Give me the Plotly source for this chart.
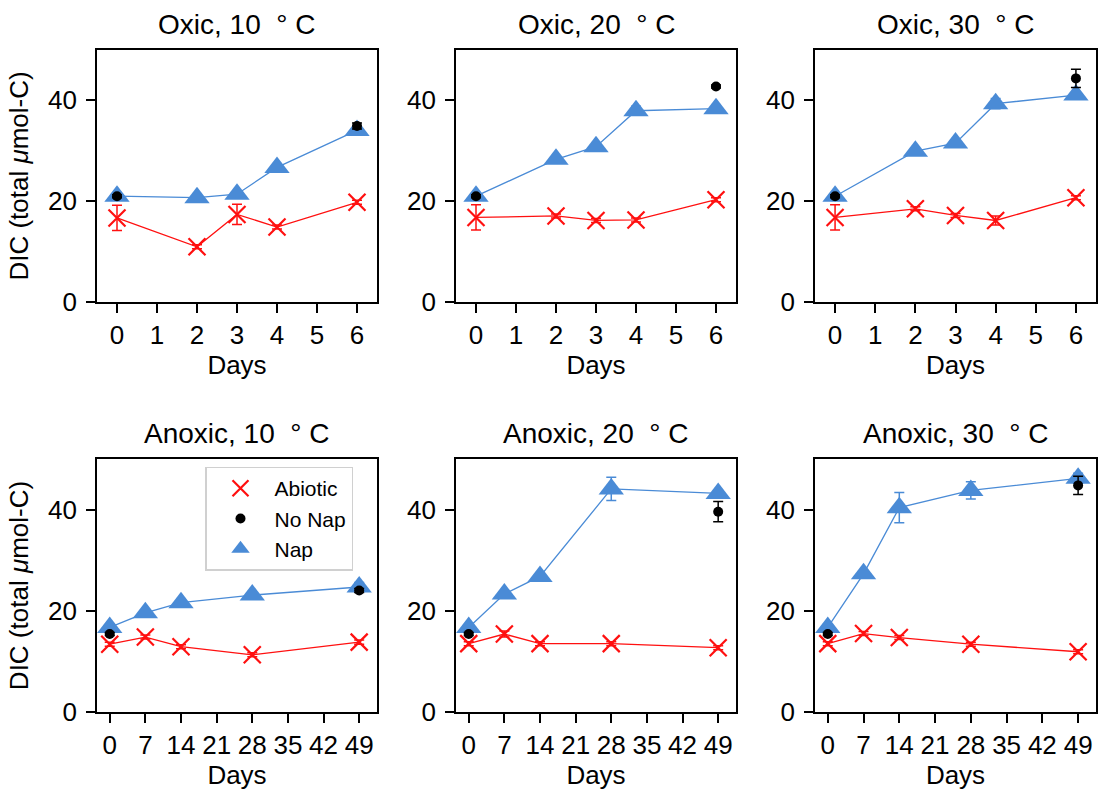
import plotly.graph_objects as go

# ---------------- data ----------------
days_oxic = [0, 2, 3, 4, 6]
days_anoxic = [0, 7, 14, 28, 49]
nonap_days_oxic = [0, 6]
nonap_days_anoxic = [0, 49]

DEG = "\u00a0\u00a0°\u00a0C"
titles = ["Oxic, 10" + DEG, "Oxic, 20" + DEG, "Oxic, 30" + DEG,
          "Anoxic, 10" + DEG, "Anoxic, 20" + DEG, "Anoxic, 30" + DEG]

abiotic_ox10 = [16.7, 11.0, 17.4, 14.9, 19.8]
abiotic_ox10_err = [2.5, 0.4, 2.0, 0.4, 0.4]
abiotic_ox20 = [16.8, 17.1, 16.2, 16.3, 20.3]
abiotic_ox20_err = [2.5, 0.4, 0.4, 0.4, 0.4]
abiotic_ox30 = [16.8, 18.5, 17.2, 16.2, 20.7]
abiotic_ox30_err = [2.5, 0.4, 0.4, 0.9, 0.4]
abiotic_an10 = [13.4, 14.8, 12.9, 11.3, 13.8]
abiotic_an10_err = [0.4, 0.4, 0.4, 0.4, 0.4]
abiotic_an20 = [13.5, 15.4, 13.5, 13.5, 12.7]
abiotic_an20_err = [0.4, 0.6, 0.4, 0.4, 0.4]
abiotic_an30 = [13.5, 15.5, 14.7, 13.4, 11.9]
abiotic_an30_err = [0.4, 0.4, 0.4, 0.4, 0.4]

nap_ox10 = [21.0, 20.7, 21.4, 26.7, 34.0]
nap_ox10_err = [0.4, 0.4, 0.4, 0.4, 0.4]
nap_ox20 = [21.0, 28.3, 30.8, 37.9, 38.3]
nap_ox20_err = [0.4, 0.4, 0.4, 0.9, 0.4]
nap_ox30 = [21.0, 29.9, 31.5, 39.3, 41.0]
nap_ox30_err = [0.4, 0.4, 0.4, 1.0, 0.4]
nap_an10 = [16.7, 19.6, 21.6, 23.1, 24.7]
nap_an10_err = [0.6, 0.5, 0.4, 0.6, 0.9]
nap_an20 = [16.7, 23.3, 26.8, 44.1, 43.2]
nap_an20_err = [0.6, 0.4, 0.4, 2.3, 0.6]
nap_an30 = [16.7, 27.3, 40.4, 43.8, 46.2]
nap_an30_err = [0.6, 0.4, 3.0, 1.7, 1.0]

nonap_ox10 = [21.0, 34.9]
nonap_ox10_err = [0.3, 0.6]
nonap_ox20 = [21.0, 42.7]
nonap_ox20_err = [0.3, 0.3]
nonap_ox30 = [21.0, 44.3]
nonap_ox30_err = [0.3, 1.8]
nonap_an10 = [15.4, 24.0]
nonap_an10_err = [0.3, 0.4]
nonap_an20 = [15.4, 39.6]
nonap_an20_err = [0.3, 2.0]
nonap_an30 = [15.4, 44.8]
nonap_an30_err = [0.3, 1.8]

x_ticks_oxic = [0, 1, 2, 3, 4, 5, 6]
x_ticks_anoxic = [0, 7, 14, 21, 28, 35, 42, 49]
y_ticks = [0, 20, 40]

panels = [
    (days_oxic, nonap_days_oxic, abiotic_ox10, abiotic_ox10_err, nap_ox10, nap_ox10_err, nonap_ox10, nonap_ox10_err),
    (days_oxic, nonap_days_oxic, abiotic_ox20, abiotic_ox20_err, nap_ox20, nap_ox20_err, nonap_ox20, nonap_ox20_err),
    (days_oxic, nonap_days_oxic, abiotic_ox30, abiotic_ox30_err, nap_ox30, nap_ox30_err, nonap_ox30, nonap_ox30_err),
    (days_anoxic, nonap_days_anoxic, abiotic_an10, abiotic_an10_err, nap_an10, nap_an10_err, nonap_an10, nonap_an10_err),
    (days_anoxic, nonap_days_anoxic, abiotic_an20, abiotic_an20_err, nap_an20, nap_an20_err, nonap_an20, nonap_an20_err),
    (days_anoxic, nonap_days_anoxic, abiotic_an30, abiotic_an30_err, nap_an30, nap_an30_err, nonap_an30, nonap_an30_err),
]

# ---------------- style / layout ----------------
W, H = 1101, 794
HE = 778  # effective rendered height used for paper-coordinate conversion
RED = "#ff1010"
BLUE = "#4a8bd6"
FONT = "Liberation Sans, Arial, sans-serif"
TICK = 26
LAB = 26

x_dom_px = [(97, 377), (456, 736), (815, 1096)]
y_dom_px = [(49.5, 302), (458.5, 711)]

fig = go.Figure()
layout = {}

for i, (dx, dn, ab, abe, nap, nape, nn, nne) in enumerate(panels):
    r, c = divmod(i, 3)
    k = "" if i == 0 else str(i + 1)
    xa, ya = "x" + k, "y" + k
    show = (i == 3)
    fig.add_trace(go.Scatter(x=dx, y=nap, mode="lines", showlegend=False, hoverinfo="skip",
                             xaxis=xa, yaxis=ya, line=dict(color=BLUE, width=1.3)))
    fig.add_trace(go.Scatter(x=dx, y=ab, mode="lines", showlegend=False, hoverinfo="skip",
                             xaxis=xa, yaxis=ya, line=dict(color=RED, width=1.3)))
    fig.add_trace(go.Scatter(
        x=dx, y=nap, mode="markers", name="Nap", legendgroup="nap",
        showlegend=show, legendrank=3, xaxis=xa, yaxis=ya,
        marker=dict(symbol="triangle-up", size=22, color=BLUE),
        error_y=dict(type="data", array=nape, color=BLUE, thickness=1.5, width=5),
    ))
    fig.add_trace(go.Scatter(
        x=dx, y=ab, mode="markers", name="Abiotic", legendgroup="ab",
        showlegend=show, legendrank=1, xaxis=xa, yaxis=ya,
        marker=dict(symbol="x-thin-open", size=17, color=RED, line=dict(color=RED, width=2.2)),
        error_y=dict(type="data", array=abe, color=RED, thickness=1.5, width=5),
    ))
    fig.add_trace(go.Scatter(
        x=dn, y=nn, mode="markers", name="No Nap", legendgroup="nn",
        showlegend=show, legendrank=2, xaxis=xa, yaxis=ya,
        marker=dict(symbol="circle", size=10, color="black"),
        error_y=dict(type="data", array=nne, color="black", thickness=1.5, width=5),
    ))

    x0, x1 = x_dom_px[c]
    y0, y1 = y_dom_px[r]
    oxic = r == 0
    layout["xaxis" + k] = dict(
        domain=[x0 / W, x1 / W], anchor=ya,
        range=[-0.5, 6.5] if oxic else [-2.5, 52.5],
        tickvals=x_ticks_oxic if oxic else x_ticks_anoxic,
        ticks="outside", ticklen=9, tickwidth=1.5, tickcolor="black",
        showline=True, linecolor="black", linewidth=1.6, mirror=True,
        showgrid=False, zeroline=False,
        tickfont=dict(size=TICK, color="black", family=FONT),
        title=dict(text="Days", font=dict(size=LAB, color="black", family=FONT), standoff=4),
    )
    layout["yaxis" + k] = dict(
        domain=[1 - y1 / HE, 1 - y0 / HE], anchor=xa,
        range=[0, 50], tickvals=y_ticks,
        ticks="outside", ticklen=9, tickwidth=1.5, tickcolor="black",
        showline=True, linecolor="black", linewidth=1.6, mirror=True,
        showgrid=False, zeroline=False, ticklabelstandoff=4,
        tickfont=dict(size=TICK, color="black", family=FONT),
        title=dict(text="DIC (total <i>μ</i>mol-C)" if c == 0 else "",
                   font=dict(size=LAB, color="black", family=FONT), standoff=12),
    )

annotations = []
for i, t in enumerate(titles):
    r, c = divmod(i, 3)
    x0, x1 = x_dom_px[c]
    y0, _ = y_dom_px[r]
    annotations.append(dict(
        text=t, xref="paper", yref="paper",
        x=(x0 + x1) / 2 / W, y=1 - (y0 - 8) / HE,
        xanchor="center", yanchor="bottom", showarrow=False,
        font=dict(size=28, color="black", family=FONT),
    ))

fig.update_layout(
    width=W, height=H,
    margin=dict(l=0, r=0, t=0, b=0),
    paper_bgcolor="white", plot_bgcolor="white",
    font=dict(family=FONT, color="black"),
    annotations=annotations,
    legend=dict(
        x=205 / W, y=1 - 466 / HE, xanchor="left", yanchor="top",
        bgcolor="rgba(255,255,255,0.8)", bordercolor="#d0d0d0", borderwidth=1.5,
        font=dict(size=21, color="black", family=FONT),
        tracegroupgap=0, itemsizing="trace", itemwidth=58,
    ),
    **layout,
)

fig.write_html("out.html")
